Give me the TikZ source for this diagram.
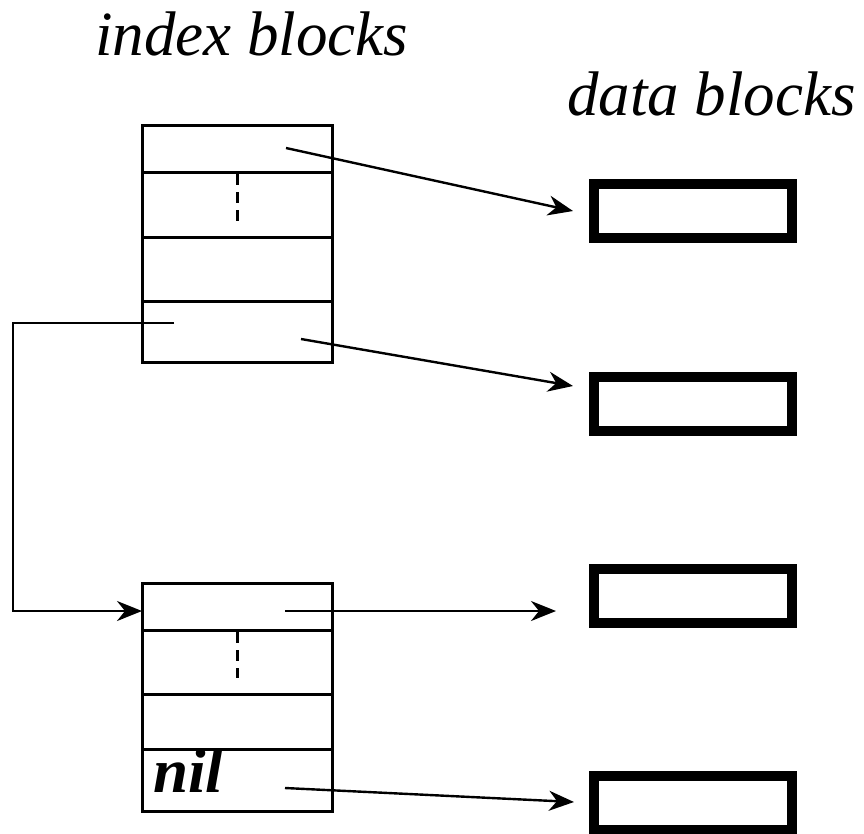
\documentclass[tikz,border=0pt]{standalone}
\usepackage{fontspec}
\setmainfont{LiberationSerif}[
  Extension=.ttf,
  UprightFont=*-Regular,
  ItalicFont=*-Italic,
  BoldFont=*-Bold,
  BoldItalicFont=*-BoldItalic]
\usetikzlibrary{arrows.meta}
\begin{document}
\begin{tikzpicture}[x=1pt,y=-1pt,
  cell/.style={draw,line width=3pt,minimum width=190pt,inner sep=0pt,outer sep=0pt,anchor=north west},
  datablk/.style={draw,line width=10pt,minimum width=198pt,minimum height=54pt,inner sep=0pt,outer sep=0pt,anchor=north west},
  ptr/.style={line width=2.4pt,-{Stealth[length=25pt,width=20pt,inset=8pt]}},
  lbl/.style={font=\fontsize{63}{70}\selectfont\itshape,inner sep=0pt,anchor=base west},
  dashline/.style={line width=3pt,dash pattern=on 11pt off 7pt}]
\useasboundingbox (0,0) rectangle (864,833);
\node[lbl] (t1) at (95,55) {index blocks};
\node[lbl] (t2) at (567,115) {data blocks};
% top index block
\node[cell,minimum height=47pt] (a1) at (142,125) {};
\node[cell,minimum height=65pt] (a2) at (142,172) {};
\node[cell,minimum height=64pt] (a3) at (142,237) {};
\node[cell,minimum height=61pt] (a4) at (142,301) {};
\draw[dashline] (237,174) -- (237,221);
% bottom index block
\node[cell,minimum height=47pt] (b1) at (142,583) {};
\node[cell,minimum height=64pt] (b2) at (142,630) {};
\node[cell,minimum height=55pt] (b3) at (142,694) {};
\node[cell,minimum height=62pt] (b4) at (142,749) {};
\draw[dashline] (237,632) -- (237,678);
\node[font=\fontsize{63}{70}\selectfont\bfseries\itshape,inner sep=0pt,anchor=base west] (nil) at (153,792) {nil};
% data blocks
\node[datablk] (d1) at (594,184) {};
\node[datablk] (d2) at (594,377) {};
\node[datablk] (d3) at (594,569) {};
\node[datablk] (d4) at (594,776) {};
% pointer coordinates
\coordinate (p1) at (286,148);
\coordinate (e1) at (573,211);
\coordinate (p2) at (301,339);
\coordinate (e2) at (573,386);
\coordinate (p3) at (285,611);
\coordinate (e3) at (556,611);
\coordinate (p4) at (285,788);
\coordinate (e4) at (574,802);
\coordinate (q1) at (174,323);
\coordinate (q2) at (142,611);
\draw[ptr] (p1) -- (e1);
\draw[ptr] (p2) -- (e2);
\draw[ptr] (p3) -- (e3);
\draw[ptr] (p4) -- (e4);
\draw[ptr] (q1) -- (13,323) -- (13,611) -- (q2);
\end{tikzpicture}
\end{document}
